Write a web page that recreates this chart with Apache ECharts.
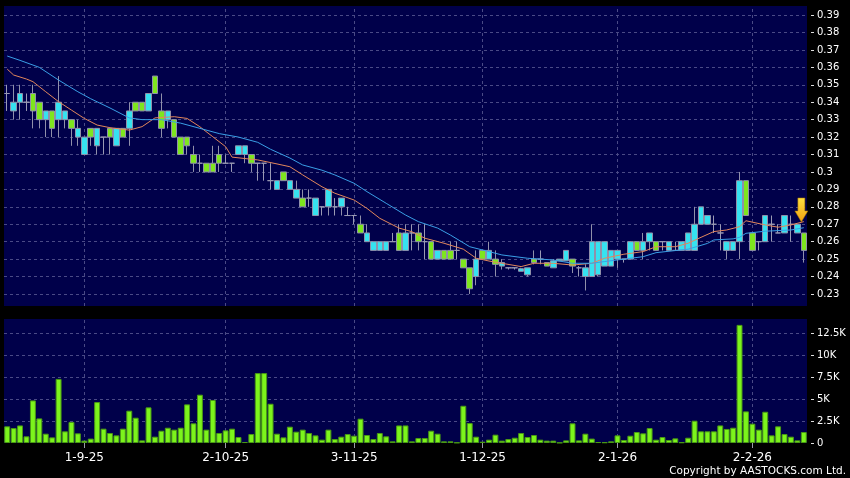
<!DOCTYPE html>
<html>
<head>
<meta charset="utf-8">
<script src="https://cdn.jsdelivr.net/npm/echarts@6/dist/echarts.min.js"></script>
<style>
  html, body { margin: 0; padding: 0; background: #000; }
  #chart { width: 850px; height: 478px; }
</style>
</head>
<body>
<div id="chart"></div>
<script>
// trading days (D-M-YY)
const dates = [
  '14-8-25','15-8-25','18-8-25','19-8-25','20-8-25','21-8-25','22-8-25','25-8-25','26-8-25','27-8-25','28-8-25','29-8-25',
  '1-9-25','2-9-25','3-9-25','4-9-25','5-9-25','8-9-25','9-9-25','10-9-25','11-9-25','12-9-25','15-9-25','16-9-25',
  '17-9-25','18-9-25','19-9-25','22-9-25','23-9-25','24-9-25','25-9-25','26-9-25','29-9-25','30-9-25',
  '2-10-25','3-10-25','6-10-25','8-10-25','9-10-25','10-10-25','13-10-25','14-10-25','15-10-25','16-10-25','17-10-25',
  '20-10-25','21-10-25','22-10-25','23-10-25','24-10-25','27-10-25','28-10-25','30-10-25','31-10-25',
  '3-11-25','4-11-25','5-11-25','6-11-25','7-11-25','10-11-25','11-11-25','12-11-25','13-11-25','14-11-25',
  '17-11-25','18-11-25','19-11-25','20-11-25','21-11-25','24-11-25','25-11-25','26-11-25','27-11-25','28-11-25',
  '1-12-25','2-12-25','3-12-25','4-12-25','5-12-25','8-12-25','9-12-25','10-12-25','11-12-25','12-12-25',
  '15-12-25','16-12-25','17-12-25','18-12-25','19-12-25','22-12-25','23-12-25','24-12-25','29-12-25','30-12-25','31-12-25',
  '2-1-26','5-1-26','6-1-26','7-1-26','8-1-26','9-1-26','12-1-26','13-1-26','14-1-26','15-1-26','16-1-26',
  '19-1-26','20-1-26','21-1-26','22-1-26','23-1-26','26-1-26','27-1-26','28-1-26','29-1-26','30-1-26',
  '2-2-26','3-2-26','4-2-26','5-2-26','6-2-26','9-2-26','10-2-26','11-2-26','12-2-26'
];

const opens = [
  .345,.335,.34,.34,.345,.34,.33,.335,.33,.33,.33,.32,.31,.325,.315,.32,.325,.315,.325,.325,
  .34,.34,.335,.355,.335,.33,.33,.32,.32,.31,.305,.305,.305,.31,.305,.305,.31,.31,.31,.305,
  .305,.295,.29,.30,.29,.285,.285,.285,.275,.28,.28,.28,.28,.275,.275,.27,.26,.255,.255,.255,
  .26,.265,.255,.265,.265,.26,.26,.25,.255,.255,.255,.25,.245,.24,.255,.25,.25,.246,.245,.245,
  .243,.241,.25,.25,.248,.245,.249,.249,.25,.245,.24,.24,.241,.246,.246,.25,.25,.25,.26,.255,
  .26,.26,.26,.255,.255,.255,.255,.255,.27,.27,.27,.265,.255,.255,.26,.295,.265,.26,.26,.27,
  .265,.265,.27,.265,.265
];
const closes = [
  .345,.34,.345,.34,.335,.33,.335,.325,.34,.335,.325,.325,.32,.32,.325,.32,.32,.325,.32,.335,
  .335,.335,.345,.345,.325,.335,.32,.31,.315,.305,.305,.30,.30,.305,.305,.305,.315,.315,.305,.305,
  .305,.295,.295,.295,.295,.29,.28,.285,.285,.28,.29,.28,.285,.275,.275,.265,.265,.26,.26,.26,
  .26,.255,.265,.265,.26,.26,.25,.255,.25,.25,.255,.245,.233,.25,.25,.255,.247,.248,.245,.245,
  .2445,.245,.248,.25,.246,.249,.25,.255,.246,.245,.245,.26,.26,.26,.255,.255,.25,.26,.255,.26,
  .265,.255,.26,.26,.255,.26,.265,.27,.28,.275,.27,.265,.26,.26,.295,.275,.255,.26,.275,.27,
  .265,.275,.27,.27,.255
];
const lows = [
  .335,.33,.33,.335,.325,.325,.32,.32,.32,.325,.315,.315,.31,.315,.31,.31,.31,.315,.32,.315,
  .335,.335,.335,.345,.32,.325,.32,.31,.31,.30,.30,.30,.30,.30,.305,.30,.31,.305,.30,.295,
  .295,.29,.29,.295,.29,.285,.28,.28,.275,.275,.275,.275,.275,.275,.27,.265,.26,.255,.255,.255,
  .26,.255,.255,.255,.255,.25,.25,.25,.25,.25,.25,.245,.23,.235,.25,.25,.24,.244,.244,.244,
  .243,.24,.247,.247,.246,.245,.249,.249,.242,.24,.232,.24,.24,.246,.246,.245,.248,.25,.255,.25,
  .255,.255,.255,.255,.255,.255,.255,.255,.27,.27,.265,.255,.25,.255,.25,.275,.255,.255,.26,.26,
  .265,.265,.26,.265,.248
];
const highs = [
  .35,.35,.35,.345,.35,.34,.335,.335,.355,.335,.33,.33,.32,.325,.325,.32,.325,.325,.325,.34,
  .34,.34,.345,.355,.345,.335,.33,.32,.32,.315,.31,.305,.315,.315,.31,.305,.315,.315,.31,.305,
  .305,.305,.295,.30,.295,.295,.29,.29,.285,.28,.29,.285,.285,.28,.275,.275,.27,.26,.26,.26,
  .265,.27,.27,.27,.27,.27,.26,.255,.255,.26,.26,.25,.245,.255,.255,.26,.255,.25,.245,.245,
  .245,.245,.255,.255,.248,.25,.25,.255,.25,.246,.247,.27,.26,.26,.255,.255,.25,.26,.26,.265,
  .265,.26,.26,.26,.26,.26,.265,.28,.28,.275,.275,.27,.26,.26,.30,.295,.265,.26,.275,.275,
  .27,.275,.275,.27,.265
];

const volumes = [
  1900,1700,2000,760,4850,2800,1060,640,7300,1330,2400,1100,270,500,4660,1630,1140,870,1630,3680,
  2880,300,4060,720,1400,1740,1520,1740,4400,2240,5500,1520,4900,1140,1440,1630,680,110,1020,7960,
  7960,4470,1060,640,1860,1290,1520,1140,870,380,1520,450,720,1020,830,2770,910,450,1140,760,
  190,2000,2000,190,570,570,1400,1060,190,190,50,4240,2270,720,150,380,950,270,450,600,
  1140,680,910,380,270,270,40,300,2240,300,1060,500,110,80,190,870,340,830,1250,1100,
  1700,380,680,340,530,80,600,2540,1330,1330,1330,2000,1600,1740,13450,3600,2200,1520,3560,870,
  1900,1020,720,300,1250
];

// moving averages: [day index, price]
const ma10Pts = [
  [0,.359],[1,.3556],[3,.3533],[4,.3518],[6,.346],[8,.3403],[10,.3355],[12,.3307],[14,.3269],[16,.3254],
  [19,.324],[21,.326],[23,.331],[26,.3317],[28,.3307],[30,.3259],[32,.3202],[34,.3145],[35,.3085],[39,.3069],
  [42,.3046],[44,.303],[46,.2983],[49,.2915],[51,.2878],[54,.2839],[56,.2791],[58,.2734],[61,.2678],[63,.2657],
  [65,.262],[68,.2591],[71,.2557],[73,.2505],[75,.2489],[77,.2476],[80,.2457],[82,.2476],[85,.2476],[88,.2466],
  [91,.2476],[93,.2505],[96,.2528],[99,.2543],[101,.2571],[104,.2571],[106,.2591],[108,.2625],[110,.2658],[112,.2667],
  [114,.2686],[115,.272],[118,.2696],[120,.2683],[122,.2696],[124,.2715]
];
const ma20Pts = [
  [0,.3665],[2,.364],[5,.360],[8,.3527],[11,.346],[13,.342],[16,.3367],[19,.331],[21,.330],[24,.330],
  [27,.328],[30,.325],[33,.322],[36,.320],[39,.317],[41,.313],[44,.308],[46,.304],[49,.301],[51,.2983],
  [54,.2935],[56,.2887],[59,.282],[62,.2753],[64,.2715],[67,.2678],[69,.2638],[72,.2571],[75,.2543],[77,.2524],
  [81,.2505],[85,.2495],[88,.2476],[91,.2476],[93,.2486],[96,.250],[99,.2514],[101,.2537],[104,.2549],[106,.2557],
  [109,.259],[110,.261],[113,.2616],[114,.2625],[115,.2648],[118,.266],[122,.2667],[124,.268]
];

const priceTicks = [0.23,0.24,0.25,0.26,0.27,0.28,0.29,0.3,0.31,0.32,0.33,0.34,0.35,0.36,0.37,0.38,0.39];
const volTicks = [0,2500,5000,7500,10000,12500];
const xTickLabels = ['1-9-25','2-10-25','3-11-25','1-12-25','2-1-26','2-2-26'];

const candles = dates.map((d, i) => [opens[i], closes[i], lows[i], highs[i]]);
const xTickIdx = xTickLabels.map(l => dates.indexOf(l));

const gridLine = { color: '#4a4a86', type: [3, 3], width: 1 };
const arrowPath = 'path://M3,0 L10,0 L10,13 L13,13 L6.5,24 L0,13 L3,13 Z';

const chart = echarts.init(document.getElementById('chart'), null, { renderer: 'canvas' });
chart.setOption({
  backgroundColor: '#000',
  animation: false,
  textStyle: { fontFamily: 'DejaVu Sans' },
  grid: [
    { left: 4, top: 6, width: 803, height: 300, show: true, backgroundColor: '#00004a', borderWidth: 0 },
    { left: 4, top: 319, width: 803, height: 124, show: true, backgroundColor: '#00004a', borderWidth: 0 }
  ],
  xAxis: [
    {
      type: 'category', gridIndex: 0, data: dates, boundaryGap: true,
      axisLine: { show: false }, axisTick: { show: false }, axisLabel: { show: false }, splitLine: { show: false }
    },
    {
      type: 'category', gridIndex: 1, data: dates, boundaryGap: true,
      axisLine: { show: false },
      axisTick: {
        show: true, alignWithLabel: true, length: 5,
        interval: (i, v) => xTickLabels.includes(v),
        lineStyle: { color: '#9a9aaa' }
      },
      axisLabel: {
        interval: (i, v) => xTickLabels.includes(v),
        color: '#fff', fontSize: 12, margin: 9
      },
      splitLine: { show: false }
    }
  ],
  yAxis: [
    {
      type: 'value', gridIndex: 0, position: 'right', offset: 4,
      min: 0.2231, max: 0.3952, scale: true,
      axisLine: { show: false },
      axisTick: { show: true, length: 3, customValues: priceTicks, lineStyle: { color: '#ddd' } },
      axisLabel: { customValues: priceTicks, color: '#fff', fontSize: 10, margin: 6 },
      splitLine: { show: false }
    },
    {
      type: 'value', gridIndex: 1, position: 'right', offset: 4,
      min: 0, max: 14120,
      axisLine: { show: false },
      axisTick: { show: true, length: 3, customValues: volTicks, lineStyle: { color: '#ddd' } },
      axisLabel: {
        customValues: volTicks, color: '#fff', fontSize: 10, margin: 6,
        formatter: v => v === 0 ? '0' : (v / 1000) + 'K'
      },
      splitLine: { show: false }
    }
  ],
  series: [
    {
      type: 'candlestick', xAxisIndex: 0, yAxisIndex: 0,
      data: candles, barWidth: 6, z: 2,
      itemStyle: {
        color: '#36e2f0', color0: '#7ee61e',
        borderColor: '#9090aa', borderColor0: '#9090aa', borderColorDoji: '#9a9ab4',
        borderWidth: 1
      },
      markLine: {
        silent: true, symbol: 'none', z: 1, label: { show: false },
        lineStyle: gridLine,
        data: priceTicks.map(v => ({ yAxis: v })).concat(xTickIdx.map(i => ({ xAxis: i })))
      },
      markPoint: {
        silent: true,
        data: [{
          coord: [123, 0.2782], symbol: arrowPath, symbolSize: [13, 24], symbolOffset: [4, 0],
          itemStyle: {
            color: new echarts.graphic.LinearGradient(0, 0, 0, 1, [
              { offset: 0, color: '#ffe040' }, { offset: 1, color: '#f0a010' }
            ]),
            borderColor: '#a07000', borderWidth: 0.5
          },
          label: { show: false }
        }]
      }
    },
    {
      type: 'line', xAxisIndex: 0, yAxisIndex: 0, data: ma10Pts, z: 3,
      symbol: 'none', smooth: false,
      lineStyle: { color: '#e2875c', width: 1 }
    },
    {
      type: 'line', xAxisIndex: 0, yAxisIndex: 0, data: ma20Pts, z: 3,
      symbol: 'none', smooth: false,
      lineStyle: { color: '#3a9fe6', width: 1 }
    },
    {
      type: 'bar', xAxisIndex: 1, yAxisIndex: 1, data: volumes, z: 2,
      barCategoryGap: '8%',
      itemStyle: { color: '#7cf41c', borderColor: '#4a9a14', borderWidth: 1 },
      markLine: {
        silent: true, symbol: 'none', z: 1, label: { show: false },
        lineStyle: gridLine,
        data: volTicks.filter(v => v > 0).map(v => ({ yAxis: v })).concat(xTickIdx.map(i => ({ xAxis: i })))
      }
    }
  ],
  graphic: [
    {
      type: 'text', right: 4, bottom: 1,
      style: { text: 'Copyright by AASTOCKS.com Ltd.', fill: '#fff', font: '10.5px "DejaVu Sans"' }
    }
  ]
});
</script>
</body>
</html>
